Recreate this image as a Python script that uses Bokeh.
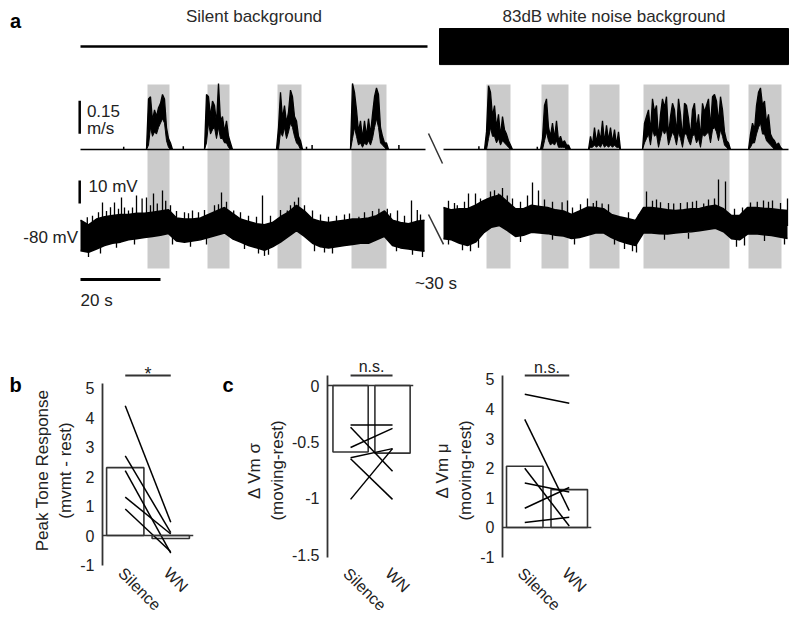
import numpy as np
from bokeh.plotting import figure
from bokeh.layouts import column, row
from bokeh.models import Range1d, FixedTicker, Span, CustomJSTickFormatter
from bokeh.core.properties import value
from bokeh.embed import file_html
from bokeh.resources import INLINE

FONT = "Liberation Sans"
TXT = "#222222"
AX = "#333333"

# ---------------- panel a data ----------------
segment_start = [0.0, 90.75]          # s (plot time), two recording excerpts
segment_end = [86.25, 177.0]
condition_labels = ["Silent background", "83dB white noise background"]
condition_start = [0.0, 89.75]
condition_end = [86.75, 177.0]
tone_start = [16.75, 31.75, 49.25, 67.75, 101.5, 115.25, 127.25, 140.75, 167.0]
tone_end = [22.25, 37.25, 55.25, 76.5, 107.5, 122.0, 134.75, 162.25, 175.25]

SPEED_DT = 0.5
burst_start = [16.5, 31.0, 49.0, 67.5, 101.0, 115.0, 127.0, 140.5, 167.0]
speed_hi_1 = [0, 0.23, 0.24, 0.13, 0.18, 0.15, 0.19, 0.21, 0.25, 0.23, 0.10, 0.05, 0.03, 0]
speed_lo_1 = [0, 0.02, 0.10, 0.06, 0.08, 0.07, 0.10, 0.12, 0.14, 0.12, 0.04, 0.01, 0, 0]
speed_hi_2 = [0, 0.25, 0.24, 0.15, 0.22, 0.20, 0.12, 0.30, 0.13, 0.15, 0.08, 0.13, 0.06, 0.03, 0]
speed_lo_2 = [0, 0.03, 0.12, 0.07, 0.09, 0.10, 0.05, 0.10, 0.05, 0.05, 0.03, 0.03, 0.01, 0, 0]
speed_hi_3 = [0, 0.10, 0.26, 0.14, 0.20, 0.12, 0.17, 0.27, 0.24, 0.15, 0.13, 0.06, 0.04, 0]
speed_lo_3 = [0, 0, 0.08, 0.06, 0.10, 0.05, 0.08, 0.12, 0.10, 0.06, 0.03, 0.02, 0, 0]
speed_hi_4 = [0, 0.30, 0.26, 0.18, 0.08, 0.13, 0.05, 0.13, 0.06, 0.14, 0.07, 0.16, 0.24, 0.28,
              0.25, 0.10, 0.06, 0.03, 0.03, 0]
speed_lo_4 = [0, 0.05, 0.10, 0.06, 0.02, 0.03, 0.01, 0.03, 0.02, 0.04, 0.02, 0.05, 0.10, 0.14,
              0.10, 0.03, 0.02, 0.01, 0, 0]
speed_hi_5 = [0, 0.08, 0.29, 0.26, 0.15, 0.20, 0.10, 0.16, 0.06, 0.15, 0.09, 0.07, 0.04, 0.02, 0]
speed_lo_5 = [0, 0, 0.05, 0.10, 0.06, 0.06, 0.03, 0.05, 0.02, 0.04, 0.03, 0.02, 0.01, 0, 0]
speed_hi_6 = [0, 0.05, 0.20, 0.23, 0.10, 0.06, 0.12, 0.05, 0.13, 0.04, 0.06, 0.03, 0.04, 0.02, 0.02, 0]
speed_lo_6 = [0, 0, 0.04, 0.08, 0.04, 0.02, 0.03, 0.02, 0.04, 0.01, 0.01, 0.01, 0.01, 0, 0, 0]
speed_hi_7 = [0, 0.06, 0.02, 0.10, 0.03, 0.09, 0.04, 0.13, 0.03, 0.11, 0.04, 0.10, 0.03, 0.09, 0.02, 0.08, 0]
speed_lo_7 = [0, 0.01, 0.01, 0.02, 0.01, 0.02, 0.01, 0.03, 0.01, 0.02, 0.01, 0.02, 0.01, 0.02, 0.01, 0.01, 0]
speed_hi_8 = [0, 0.12, 0.15, 0.18, 0.08, 0.23, 0.17, 0.20, 0.05, 0.16, 0.23, 0.19, 0.24, 0.06, 0.15,
              0.21, 0.18, 0.07, 0.23, 0.16, 0.05, 0.21, 0.20, 0.14, 0.06, 0.18, 0.21, 0.09, 0.16, 0.05,
              0.21, 0.17, 0.20, 0.23, 0.10, 0.24, 0.25, 0.22, 0.12, 0.24, 0.18, 0.08, 0.04, 0.03, 0]
speed_lo_8 = [0, 0.03, 0.05, 0.07, 0.02, 0.09, 0.06, 0.07, 0.01, 0.05, 0.09, 0.07, 0.09, 0.02, 0.05,
              0.08, 0.06, 0.02, 0.08, 0.05, 0.01, 0.07, 0.07, 0.04, 0.02, 0.06, 0.07, 0.03, 0.05, 0.01,
              0.07, 0.06, 0.07, 0.08, 0.03, 0.09, 0.10, 0.08, 0.04, 0.09, 0.06, 0.02, 0.01, 0, 0]
speed_hi_9 = [0, 0.07, 0.12, 0.09, 0.20, 0.26, 0.28, 0.20, 0.22, 0.12, 0.16, 0.07, 0.05, 0.04, 0.02, 0.03, 0.01, 0]
speed_lo_9 = [0, 0.01, 0.03, 0.03, 0.07, 0.10, 0.12, 0.07, 0.07, 0.04, 0.03, 0.02, 0.01, 0, 0, 0, 0, 0]
speed_blip_t = [10.8, 25.7, 56.5, 57.9, 79.6, 99.6, 114.2]
speed_blip_v = [0.012, 0.015, 0.012, 0.02, 0.02, 0.015, 0.012]

VM_DT = 2.0
vm1_hi = [-72.5, -74.5, -72.0, -71.0, -70.5, -70.0, -70.0, -69.5, -69.5, -69.0, -68.5, -68.0,
          -71.5, -72.0, -72.0, -71.5, -70.0, -68.5, -67.0, -69.5, -72.0, -73.0, -74.0, -74.5,
          -73.5, -71.0, -69.0, -66.0, -68.5, -72.0, -73.0, -73.5, -73.0, -72.5, -72.0, -72.0,
          -71.5, -70.5, -68.5, -72.5, -73.5, -74.0, -73.0, -72.5]
vm1_lo = [-85.7, -86.4, -85.0, -83.5, -82.5, -82.0, -81.0, -80.5, -80.0, -79.5, -79.0, -78.3,
          -81.5, -82.0, -81.5, -81.0, -80.0, -79.0, -78.0, -80.5, -82.0, -83.5, -84.5, -85.5,
          -84.0, -82.0, -79.5, -77.0, -79.5, -82.5, -84.0, -84.5, -84.0, -83.5, -83.0, -82.5,
          -82.5, -81.0, -79.5, -83.5, -84.5, -85.0, -85.5, -86.0]
vm2_hi = [-67.0, -68.0, -67.5, -67.5, -66.0, -64.0, -62.5, -61.5, -64.5, -67.5, -67.5, -66.0,
          -66.5, -67.0, -68.0, -68.5, -70.0, -68.5, -66.8, -67.0, -67.5, -70.0, -71.0, -71.7,
          -72.6, -67.0, -67.0, -67.4, -68.0, -68.3, -68.0, -67.5, -67.4, -66.5, -66.0, -67.5,
          -70.5, -70.5, -67.0, -67.0, -67.3, -67.5, -68.0, -68.3]
vm2_lo = [-80.5, -81.0, -82.5, -83.5, -82.0, -78.0, -75.5, -74.8, -77.0, -79.5, -79.0, -77.7,
          -78.0, -78.3, -79.0, -79.3, -80.4, -80.0, -79.0, -78.0, -78.0, -80.0, -81.5, -82.6,
          -83.5, -78.0, -78.0, -78.3, -78.5, -78.0, -77.7, -77.5, -77.0, -76.5, -76.0, -77.5,
          -80.5, -81.0, -78.5, -78.3, -78.8, -79.1, -79.8, -80.4]
# large depolarising spikes
spike_t = [1.7, 5.5, 7.5, 8.5, 10.25, 12.0, 14.0, 15.4, 16.5, 18.25, 19.2, 20.5, 21.3, 28.0, 32.5,
           35.25, 38.3, 45.5, 51.7, 54.5, 58.0, 62.0, 67.25, 69.6, 74.6, 76.7, 79.25, 82.75, 84.2,
           94.2, 97.0, 98.75, 101.7, 104.5, 106.7, 111.75, 113.0, 114.5, 120.4, 121.75, 126.75,
           128.2, 130.4, 141.5, 145.0, 148.3, 151.7, 155.8, 159.5, 161.25, 167.5, 169.2, 170.75,
           173.0, 176.75]
spike_peak = [-71.2, -64.8, -66.8, -64.8, -62.6, -68.3, -61.7, -63.0, -62.6, -60.9, -65.2, -59.6,
              -64.0, -68.3, -70.0, -60.4, -68.3, -61.7, -68.3, -62.6, -68.3, -71.0, -69.6, -71.0,
              -67.5, -67.5, -68.3, -63.9, -68.0,
              -66.0, -60.9, -60.9, -63.0, -60.9, -61.7, -61.7, -56.1, -59.6, -64.7, -63.9, -63.0,
              -65.0, -65.2, -60.0, -64.7, -65.2, -64.7, -65.2, -54.8, -55.7, -64.8, -64.5, -63.9,
              -63.9, -63.0]
# small upward excursions
small_up_t = [3, 4.5, 6.5, 9.5, 11, 13, 17.5, 22.5, 24, 26, 27, 29.5, 31, 33.5, 34.5, 36.5, 40, 42,
              44, 47.5, 50, 52.5, 53.5, 56, 60, 64, 66, 71, 73, 77.5, 81, 85,
              92, 93.5, 96, 100, 102.5, 103.5, 105.5, 108, 110, 116, 118, 123, 125, 129, 132, 137,
              139.5, 143, 144, 147, 150, 153, 154, 157, 158.5, 163.5, 165.5, 172, 175]
small_up_v = [-70.5, -69, -68.5, -67.5, -67, -67, -66, -66, -68.5, -69, -69.5, -69, -68, -66, -65.5,
              -64.5, -69, -70.5, -71, -70.5, -68, -66, -64.5, -66, -70, -70.5, -70, -69, -68.5,
              -69.5, -70.5, -70,
              -64, -65, -64.5, -63, -60, -59.5, -58.5, -63, -64.5, -63.5, -64.5, -67, -65.5, -64,
              -65.5, -69, -70, -64, -63.5, -65, -65, -64.5, -64, -63.5, -63, -67.5, -67, -64.5, -65]
# small downward excursions
small_dn_t = [2, 5, 9, 13.5, 23, 27.5, 31.5, 41, 44.5, 46, 47, 58.5, 61, 63, 79, 83, 85.5,
              92, 95.5, 97.5, 99.5, 110, 118, 123.5, 133.5, 136, 138, 139, 146, 152, 164, 166, 171, 176]
small_dn_v = [-88.5, -87, -84.5, -83, -83, -84, -83, -85, -87, -88, -87.5, -86, -86.5, -87, -86,
              -87.5, -88.5,
              -83, -85.5, -86, -84.5, -82, -81, -83, -83, -85, -86, -86.5, -81, -80.5, -84, -83.5,
              -81.5, -83]

speed_scale = 0.15
speed_scale_labels = ["0.15", "m/s"]
vm_scale = 10
vm_scale_label = "10 mV"
vm_rest = -80
vm_rest_label = "-80 mV"
time_scale = 20
time_scale_label = "20 s"
gap_label = "~30 s"
panel_letters = ["a", "b", "c"]

# ---------------- panels b / c data ----------------
categories = ["Silence", "WN"]
b_means = [2.3, -0.1]
b_silence = [4.4, 2.7, 2.2, 1.3, 0.9]
b_wn = [0.45, 0.1, -0.6, 0.05, -0.55]
b_ticks = [-1, 0, 1, 2, 3, 4, 5]

sd_means = [-0.59, -0.6]
sd_silence = [-0.35, -0.37, -0.55, -0.64, -0.65, -1.01]
sd_wn = [-0.35, -0.76, -0.38, -0.56, -1.01, -0.56]
sd_ticks = [-1.5, -1.0, -0.5, 0.0]

mu_means = [2.07, 1.28]
mu_silence = [4.5, 3.65, 2.0, 1.5, 0.65, 0.17]
mu_wn = [4.2, 0.57, 0.05, 1.2, 1.35, 0.35]
mu_ticks = [-1, 0, 1, 2, 3, 4, 5]

# ================= panel a =================
pa = figure(width=800, height=318, x_range=Range1d(-20, 180), y_range=Range1d(-0.7682, 0.6773),
            output_backend="svg", toolbar_location=None, x_axis_location=None, y_axis_location=None,
            min_border=0, outline_line_color=None)
pa.extra_y_ranges = {"vm": Range1d(-115.217, 23.043)}
pa.xgrid.visible = False
pa.ygrid.visible = False

def txt(p, x, y, s, align="left", base="middle", size="17px", style="normal", color=TXT,
        angle=0.0, y_range_name="default"):
    p.text(x=[x], y=[y], text=[s], text_align=align, text_baseline=base, angle=angle,
           text_font=value(FONT), text_font_size=size, text_font_style=style,
           text_color=color, y_range_name=y_range_name)

# tone shading
pa.quad(left=tone_start, right=tone_end, bottom=-0.541, top=0.2955,
        fill_color="#cbcbcb", line_color=None)

# condition bars + labels
pa.line([condition_start[0], condition_end[0]], [0.468, 0.468], line_color="black", line_width=2.5)
pa.quad(left=[condition_start[1]], right=[condition_end[1]], bottom=[0.386], top=[0.55],
        fill_color="black", line_color="black")
for s, e, lab in zip(condition_start, condition_end, condition_labels):
    txt(pa, (s + e) / 2, 0.6045, lab, align="center", color="#2a2a2a")
txt(pa, -17.6, 0.586, panel_letters[0], size="20px", style="bold", color="black")

# speed trace
pa.segment(x0=segment_start, y0=0, x1=segment_end, y1=0, line_color="black", line_width=1.4)
pa.segment(x0=speed_blip_t, y0=0, x1=speed_blip_t, y1=speed_blip_v, line_color="black", line_width=1.5)
his = [speed_hi_1, speed_hi_2, speed_hi_3, speed_hi_4, speed_hi_5, speed_hi_6, speed_hi_7, speed_hi_8, speed_hi_9]
los = [speed_lo_1, speed_lo_2, speed_lo_3, speed_lo_4, speed_lo_5, speed_lo_6, speed_lo_7, speed_lo_8, speed_lo_9]
for s, hi, lo in zip(burst_start, his, los):
    t = s + SPEED_DT * np.arange(len(hi))
    pa.varea(x=t, y1=lo, y2=hi, fill_color="black")
    pa.line(t, hi, line_color="black", line_width=1.3)
    pa.line(t, lo, line_color="black", line_width=1.0)

# membrane potential trace
for t0, hi, lo in zip(segment_start, [vm1_hi, vm2_hi], [vm1_lo, vm2_lo]):
    t = t0 + VM_DT * np.arange(len(hi))
    pa.varea(x=t, y1=lo, y2=hi, fill_color="black", y_range_name="vm")
    pa.line(t, hi, line_color="black", line_width=1.6, y_range_name="vm")
    pa.line(t, lo, line_color="black", line_width=1.6, y_range_name="vm")
pa.segment(x0=spike_t, y0=-75, x1=spike_t, y1=spike_peak, line_color="black", line_width=1.3,
           y_range_name="vm")
pa.segment(x0=small_up_t, y0=-75, x1=small_up_t, y1=small_up_v, line_color="black", line_width=1.3,
           y_range_name="vm")
pa.segment(x0=small_dn_t, y0=-78, x1=small_dn_t, y1=small_dn_v, line_color="black", line_width=1.3,
           y_range_name="vm")

# scale bars
pa.segment(x0=[-0.2], y0=[0.072], x1=[-0.2], y1=[0.072 + speed_scale], line_color="black", line_width=2.5)
txt(pa, 1.6, 0.173, speed_scale_labels[0])
txt(pa, 1.6, 0.095, speed_scale_labels[1])
pa.segment(x0=[-0.2], y0=[-65.2], x1=[-0.2], y1=[-65.2 + vm_scale], line_color="black", line_width=2.5,
           y_range_name="vm")
txt(pa, 2.0, -57.8, vm_scale_label, y_range_name="vm")
txt(pa, -0.6, vm_rest, vm_rest_label, align="right", y_range_name="vm")
pa.segment(x0=[0], y0=[-98.3], x1=[time_scale], y1=[-98.3], line_color="black", line_width=3,
           y_range_name="vm")
txt(pa, 0, -107.4, time_scale_label, y_range_name="vm")
txt(pa, 83.6, -100.0, gap_label, y_range_name="vm")

# axis breaks
pa.segment(x0=[87.0], y0=[0.0727], x1=[90.5], y1=[-0.0636], line_color=AX, line_width=1.5)
pa.segment(x0=[87.0], y0=[-70.0], x1=[90.75], y1=[-83.0], line_color=AX, line_width=1.5,
           y_range_name="vm")

# ================= panels b / c =================
ROW_H = 303

def letter_fig(width, letter, x_local):
    p = figure(width=width, height=ROW_H, x_range=Range1d(0, width), y_range=Range1d(0, ROW_H),
               output_backend="svg", toolbar_location=None, x_axis_location=None,
               y_axis_location=None, min_border=0, outline_line_color=None)
    p.xgrid.visible = False
    p.ygrid.visible = False
    txt(p, x_local, ROW_H - 59, letter, size="20px", style="bold", color="black")
    return p

def bar_panel(width, min_left, min_right, xr, yr, bounds, ticks, means, sil, wn, ylabel,
              sig_text, sig_y, sig_text_y, sig_size, cat_y, bar_w):
    p = figure(width=width, height=ROW_H, x_range=Range1d(*xr), y_range=Range1d(*yr),
               output_backend="svg", toolbar_location=None, x_axis_location=None,
               min_border=0, min_border_left=min_left, min_border_right=min_right,
               min_border_top=12, min_border_bottom=11, outline_line_color=None)
    p.xgrid.visible = False
    p.ygrid.visible = False
    ax = p.yaxis[0]
    ax.ticker = FixedTicker(ticks=ticks)
    ax.formatter = CustomJSTickFormatter(code="return String(tick);")
    ax.bounds = bounds
    ax.major_tick_in = 0
    ax.major_tick_out = 0
    ax.minor_tick_in = 0
    ax.minor_tick_out = 0
    ax.axis_line_color = AX
    ax.axis_line_width = 1.8
    ax.major_label_standoff = 8
    ax.major_label_text_font = FONT
    ax.major_label_text_font_size = "16px"
    ax.major_label_text_color = TXT
    ax.axis_label = ylabel
    ax.axis_label_text_font = FONT
    ax.axis_label_text_font_size = "17px"
    ax.axis_label_text_font_style = "normal"
    ax.axis_label_text_color = TXT
    ax.axis_label_standoff = 2

    xs = [1, 2]
    p.vbar(x=xs, top=means, bottom=0, width=bar_w, fill_color=None, line_color=AX, line_width=1.6)
    p.add_layout(Span(location=0, dimension="width", line_color=AX, line_width=1.6))
    p.multi_line(xs=[[1, 2] for _ in sil], ys=[[a, b] for a, b in zip(sil, wn)],
                 line_color="black", line_width=1.5)
    p.line([1, 2], [sig_y, sig_y], line_color=AX, line_width=2)
    txt(p, 1.5, sig_text_y, sig_text, align="center", base="alphabetic", size=sig_size)
    for x, c in zip(xs, categories):
        txt(p, x + 0.04, cat_y, c, align="left", base="top", size="16px", angle=-np.pi / 4)
    return p

lb = letter_fig(30, panel_letters[1], 9)
pb = bar_panel(186, 72, 23, (0.5, 2.5), (-2.542, 6.949), (-1.02, 5.15), b_ticks, b_means,
               b_silence, b_wn, "Peak Tone Response\n(mvmt - rest)", "*", 5.42, 5.49, "18px", -0.98, 0.82)
lc = letter_fig(26, panel_letters[2], 6)
pc1 = bar_panel(188, 82, 17, (0.45, 2.5), (-1.996, 0.488), (-1.526, 0.0887), sd_ticks, sd_means,
                sd_silence, sd_wn, "\u0394 Vm \u03c3\n(moving-rest)", "n.s.", 0.0887, 0.165, "16px",
                -1.59, 0.84)
pc2 = bar_panel(370, 71, 209, (0.5, 2.5), (-2.804, 6.655), (-1.01, 5.135), mu_ticks, mu_means,
                mu_silence, mu_wn, "\u0394 Vm \u03bc\n(moving-rest)", "n.s.", 5.135, 5.40, "16px",
                -1.25, 0.82)

layout = column(pa, row(lb, pb, lc, pc1, pc2, spacing=0), spacing=0)
open("out.html", "w").write(file_html(layout, INLINE))
